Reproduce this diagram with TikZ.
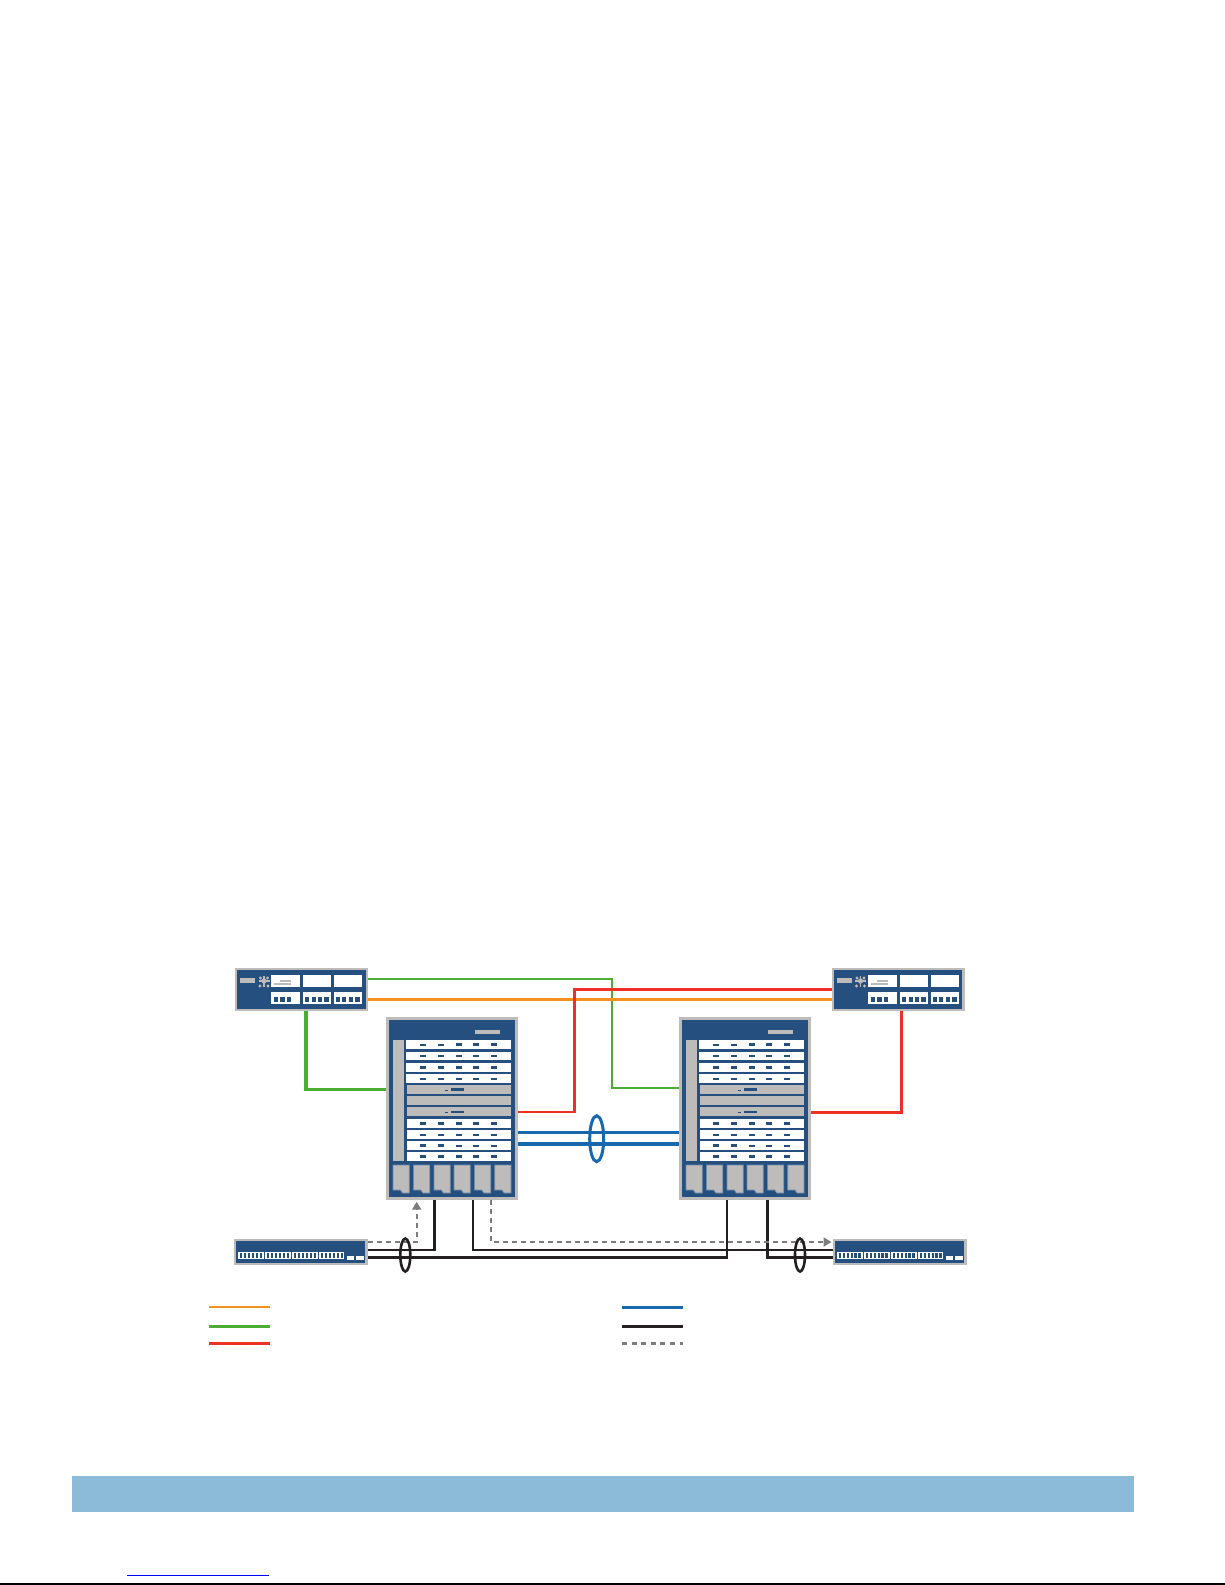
\documentclass[tikz,border=0pt]{standalone}
\usepackage{tikz}
\usetikzlibrary{arrows.meta,shapes.geometric}

\definecolor{devblue}{HTML}{254F7F}
\definecolor{devgrey}{HTML}{BDBCBA}
\definecolor{slotedge}{HTML}{6F8AA8}
\definecolor{lnkorange}{HTML}{F7901E}
\definecolor{lnkgreen}{HTML}{4BAE32}
\definecolor{lnkred}{HTML}{EE3124}
\definecolor{lnkblue}{HTML}{1868B0}
\definecolor{lnkblack}{HTML}{231F20}
\definecolor{lnkgrey}{HTML}{7D7B7C}
\definecolor{barblue}{HTML}{8CBBDA}

\tikzset{
  devbox/.style = {draw=devgrey, fill=devblue, rectangle, inner sep=0pt, anchor=north west},
  routerbox/.style = {devbox, line width=2.4pt, minimum width=130.8pt, minimum height=40.6pt},
  chassisbox/.style = {devbox, line width=3.4pt, minimum width=129pt, minimum height=179.6pt},
  switchbox/.style = {devbox, line width=2.4pt, minimum width=131.4pt, minimum height=23.6pt},
  lagring/.style = {ellipse, draw, fill=none, inner sep=0pt, line width=2.6pt},
  thinlnk/.style = {line width=2.3pt},
  thicklnk/.style = {line width=3.4pt},
  dashlnk/.style = {lnkgrey, line width=2.4pt, dash pattern=on 5pt off 4pt},
  dashtip/.style = {-{Triangle[width=9pt,length=8pt]}}
}

\newcommand{\RouterDev}[3]{
  \node[routerbox] (#1) at (#2,#3) {};
  \begin{scope}[shift={(#2,#3)}]
    \fill[devgrey] (5,10) rectangle (20,15);
    \fill[devgrey] (29,13) circle (2.6);
    \draw[devgrey,line width=1.6pt] (23.5,13) -- (34.5,13);
    \draw[devgrey,line width=1.6pt] (29,7.5) -- (29,18.5);
    \foreach \dx/\dy in {-4/5,4/5,-3.5/-3,3.5/-3}
      \fill[devgrey] (29+\dx,13+\dy) circle (1.6);
    \foreach \mx/\mw in {36/29,68/28,99/28} {
      \fill[white] (\mx,7) rectangle ++(\mw,12);
      \fill[white] (\mx,24) rectangle ++(\mw,12);
    }
    \fill[devgrey] (45,12) rectangle (56,14);
    \fill[devgrey] (39,15) rectangle (56,17);
    \foreach \sx/\sw in {39/4,45/5,52/4,70/4,77/4,83/4,89/5,101/4,107/4,114/4,120/5}
      \fill[devblue] (\sx,29) rectangle ++(\sw,5);
  \end{scope}
}

\newcommand{\ChassisDev}[3]{
  \node[chassisbox] (#1) at (#2,#3) {};
  \begin{scope}[shift={(#2,#3)}]
    \fill[devgrey] (89,13) rectangle (114,17);
    \fill[devgrey] (7,23) rectangle (18,144);
    % line cards, top half
    \foreach \ry/\rh in {23/9,35/8,46/9,57/9}
      \fill[white] (20,\ry) rectangle (124.5,\ry+\rh);
    \foreach \ry/\rh in {102/9,113/9,124/9,135/9}
      \fill[white] (20.5,\ry) rectangle (124.5,\ry+\rh);
    \foreach \ry in {68,79,90}
      \fill[devgrey] (20.5,\ry) rectangle (124.5,\ry+9);
    \fill[devblue] (59,72.7) rectangle (62,73.9);
    \fill[devblue] (65,71) rectangle (78,74);
    \fill[devblue] (59,94.7) rectangle (62,95.9);
    \fill[devblue] (65,93.7) rectangle (78,95.7);
    % marks on the cards
    \foreach \mx in {34,52,70,87,105} {
      \foreach \cy/\mh in {39/2,61.5/2,50.5/3,106.5/3,117.5/2,139.5/3}
        \fill[devblue] (\mx,\cy-\mh/2) rectangle ++(6,\mh);
    }
    \foreach \mx/\mh in {34/2,52/2,70/3,87/3,105/3}
      \fill[devblue] (\mx,27.5-\mh/2) rectangle ++(6,\mh);
    \foreach \mx/\mh in {34/3,52/3,70/2,87/2,105/2}
      \fill[devblue] (\mx,128.5-\mh/2) rectangle ++(6,\mh);
    % slots
    \foreach \sx in {7,27.5,48,68,88.5,108.7}
      \draw[slotedge, fill=devgrey, line width=.7pt] (\sx,148) -- ++(16.3,0) -- ++(0,28)
        -- ++(-7,0) -- ++(-2,-3) -- (\sx,173) -- cycle;
  \end{scope}
}

\newcommand{\SwitchDev}[3]{
  \node[switchbox] (#1) at (#2,#3) {};
  \begin{scope}[shift={(#2,#3)}]
    \foreach \gx/\gw in {4/26,31/26,58/26,85/25} {
      \fill[white] (\gx,13) rectangle ++(\gw,7);
      \foreach \p in {0,...,5}
        \fill[devblue] (\gx+2+\p*3.9,14.3) rectangle ++(2.4,4.4);
    }
    \fill[white] (113,17) rectangle (120,21);
    \fill[white] (122,17) rectangle (130,21);
  \end{scope}
}

\begin{document}
\begin{tikzpicture}[x=1pt,y=-1pt]

\useasboundingbox (0,0) rectangle (1225,1585);
\fill[white] (0,0) rectangle (1225,1585);

\RouterDev{routerA}{235}{968}
\RouterDev{routerB}{831.5}{968}
\ChassisDev{chassisA}{386}{1017}
\ChassisDev{chassisB}{679}{1017}
\SwitchDev{switchA}{234}{1239}
\SwitchDev{switchB}{832.8}{1239}

\coordinate (bendA) at (434.3,1250);
\coordinate (bendB) at (473,1250);
\coordinate (bendC) at (727,1257.3);
\coordinate (bendD) at (767.3,1257.5);

\draw[thinlnk,lnkgreen] ([yshift=10.5pt]routerA.east) -- ++(244,0) |- ([yshift=20.8pt]chassisB.west);
\draw[thicklnk,lnkgreen] ([xshift=4.2pt]routerA.south) |- ([yshift=19.2pt]chassisA.west);
\draw[thicklnk,lnkorange] ([yshift=-9.8pt]routerA.east) -- ([yshift=-9.8pt]routerB.west);
\draw[thicklnk,lnkred,line width=2.6pt] ([yshift=-3.5pt]chassisA.east) -- ++(56,0) |- (routerB.west);
\draw[thicklnk,lnkred] ([xshift=3.3pt]routerB.south) |- ([yshift=-3.7pt]chassisB.east);
\draw[thicklnk,lnkblue] ([yshift=-23.8pt]chassisA.east) -- ([yshift=-23.8pt]chassisB.west);
\draw[thicklnk,lnkblue,line width=3.8pt] ([yshift=-35.2pt]chassisA.east) -- ([yshift=-35.2pt]chassisB.west);

\draw[thinlnk,lnkblack,shorten >=-1.7pt] ([yshift=2pt]switchA.east) -- (bendA);
\draw[thicklnk,lnkblack] (bendA) -- (bendA |- chassisA.south);
\draw[thicklnk,lnkblack,shorten >=-1.1pt] ([yshift=-5.3pt]switchA.east) -- (bendC);
\draw[thinlnk,lnkblack] (bendC) -- (bendC |- chassisB.south);
\draw[thinlnk,lnkblack] (bendB |- chassisA.south) |- ([yshift=2pt]switchB.west);
\draw[thicklnk,lnkblack] (bendD |- chassisB.south) -- ([yshift=-1.2pt]bendD);
\draw[thinlnk,lnkblack,shorten <=-1.7pt] (bendD) -- (bendD -| switchB.west);

\draw[dashlnk,dashtip] ([yshift=10pt]switchA.east) -| ([shift={(-35.5pt,-1.7pt)}]chassisA.south);
\draw[dashlnk,dashtip] ([xshift=38.5pt]chassisA.south) |- ([shift={(-1.3pt,10pt)}]switchB.west);

\node[lagring,lnkblue,line width=3pt,minimum width=14pt,minimum height=46pt] (lagBlue) at (596.7,1138.7) {};
\node[lagring,lnkblack,minimum width=10pt,minimum height=33pt] (lagLeft) at (405.3,1255) {};
\node[lagring,lnkblack,minimum width=10pt,minimum height=33pt] (lagRight) at (800,1255) {};

% legend
\coordinate (keyA) at (209,1307);
\coordinate (keyAend) at (270,1307);
\coordinate (keyB) at (209,1326.3);
\coordinate (keyBend) at (270,1326.3);
\coordinate (keyC) at (209,1343.3);
\coordinate (keyCend) at (270,1343.3);
\coordinate (keyD) at (622,1307.3);
\coordinate (keyDend) at (683,1307.3);
\coordinate (keyE) at (622,1326.3);
\coordinate (keyEend) at (683,1326.3);
\coordinate (keyF) at (622,1343.3);
\coordinate (keyFend) at (683,1343.3);

\draw[thinlnk,lnkorange] (keyA) -- (keyAend);
\draw[thicklnk,lnkgreen] (keyB) -- (keyBend);
\draw[thicklnk,lnkred] (keyC) -- (keyCend);
\draw[thicklnk,lnkblue] (keyD) -- (keyDend);
\draw[thicklnk,lnkblack] (keyE) -- (keyEend);
\draw[dashlnk,line width=3pt,dash pattern=on 5pt off 4.6pt] (keyF) -- (keyFend);

\fill[barblue] (72,1476) rectangle (1134,1512);
\draw[blue,line width=1.2pt] (127,1575.3) -- (269,1575.3);
\draw[black,line width=2pt] (0,1584.3) -- (1225,1584.3);

\end{tikzpicture}
\end{document}
